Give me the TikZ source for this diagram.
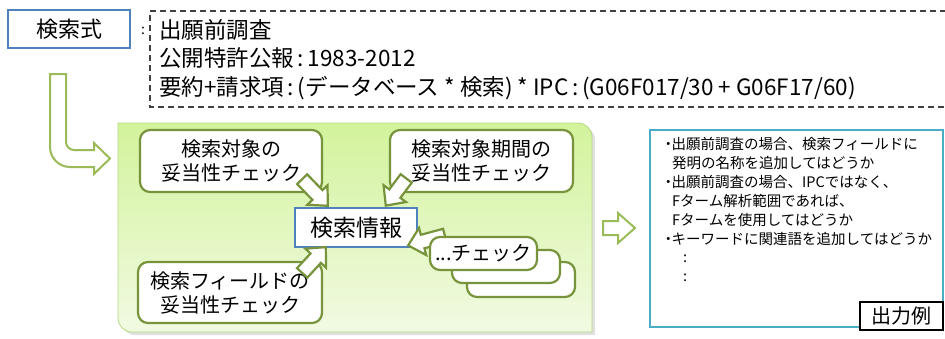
\documentclass[tikz,border=0pt]{standalone}
\usepackage{fontspec}
\setmainfont{Noto Sans CJK JP}
\usetikzlibrary{calc}
\definecolor{blueb}{HTML}{4F81BD}
\definecolor{greenb}{HTML}{77933C}
\definecolor{lgreen}{HTML}{9BBB59}
\definecolor{cyanb}{HTML}{4BACC6}
\definecolor{ptop}{HTML}{D3F39C}
\definecolor{pbot}{HTML}{F1FAE2}
\definecolor{pline}{HTML}{B5DA80}
\definecolor{dashc}{HTML}{404040}
\tikzset{
  chkbox/.style={draw=greenb, line width=2.2pt, rounded corners=10pt, fill=white, inner sep=0pt, align=center, font=\fontsize{20}{24}\selectfont},
  bluebox/.style={draw=blueb, line width=2.2pt, fill=white, inner sep=0pt},
  arrowstyle/.style={draw=greenb, line width=2.2pt, fill=white, line join=miter},
  hollowarrow/.style={draw=lgreen, line width=2pt, fill=white, line join=miter},
  toptext/.style={anchor=base west, inner sep=0pt, font=\fontsize{22.5}{26}\selectfont},
  outtext/.style={anchor=base west, inner sep=0pt, font=\fontsize{14.5}{19}\selectfont},
}
\newcommand{\blkarrow}[4]{%
  \begin{scope}[shift={(#1,#2)},rotate=#3]
    \draw[arrowstyle] (-#4/2,-7) -- (#4/2-15,-7) -- (#4/2-15,-14) -- (#4/2,0) -- (#4/2-15,14) -- (#4/2-15,7) -- (-#4/2,7) -- cycle;
  \end{scope}}
\begin{document}
\begin{tikzpicture}[x=1pt,y=-1pt]
\useasboundingbox (0,0) rectangle (945,338);
\fill[white] (0,0) rectangle (945,338);

% query box
\node[bluebox, minimum width=122pt, minimum height=38pt, font=\fontsize{22}{26}\selectfont] (query) at (69,29) {検索式};
\node[inner sep=0pt, font=\fontsize{14}{16}\selectfont] (colon) at (143,31) {:};

% dashed box
\draw[dashc, line width=1.1pt, dash pattern=on 6pt off 4pt] (946,11) -- (150,11) -- (150,107) -- (946,107);
\node[toptext] (l1) at (159,38.5) {出願前調査};
\node[toptext] (l2) at (159,66.5) {公開特許公報\,:\,1983-2012};
\node[toptext] (l3) at (159,95) {要約+請求項\,:\,(データベース * 検索) * IPC\,:\,(G06F017/30 + G06F17/60)};

% L arrow
\draw[hollowarrow] (50,74) -- (66,74) -- (66,142) .. controls (66,146.4) and (69.6,150) .. (74,150) -- (94,150) -- (94,143) -- (110,158.5) -- (94,174) -- (94,167) -- (70,167) .. controls (59,167) and (50,158) .. (50,147) -- cycle;

% panel shadow and panel
\fill[black, opacity=0.12] (121,126) -- (581,126) .. controls (588.7,126) and (595,132.3) .. (595,140) -- (595,335) -- (135,335) .. controls (127.3,335) and (121,328.7) .. (121,321) -- cycle;
\shade[top color=ptop, bottom color=pbot] (118,123) -- (578,123) .. controls (585.7,123) and (592,129.3) .. (592,137) -- (592,332) -- (132,332) .. controls (124.3,332) and (118,325.7) .. (118,318) -- cycle;
\draw[pline, line width=0.8pt] (118,123) -- (578,123) .. controls (585.7,123) and (592,129.3) .. (592,137) -- (592,332) -- (132,332) .. controls (124.3,332) and (118,325.7) .. (118,318) -- cycle;

% check boxes
\node[chkbox, minimum width=182pt, minimum height=62pt] (boxA) at (231,161) {検索対象の\\妥当性チェック};
\node[chkbox, minimum width=183pt, minimum height=62pt] (boxB) at (481.5,161) {検索対象期間の\\妥当性チェック};
\node[chkbox, minimum width=184pt, minimum height=61pt] (boxC) at (230,292.5) {検索フィールドの\\妥当性チェック};

% center box
\node[bluebox, minimum width=122pt, minimum height=39pt, font=\fontsize{23}{27}\selectfont] (info) at (356,227.5) {検索情報};

% arrow D (behind stack, over center box)
\blkarrow{426.5}{240.5}{-165}{38}

% stacked boxes
\node[chkbox, minimum width=108pt, minimum height=35pt] (stack3) at (521,279.5) {};
\node[chkbox, minimum width=108pt, minimum height=33pt] (stack2) at (506,266.5) {};
\node[chkbox, minimum width=107pt, minimum height=33pt] (stack1) at (483.5,253.5) {...チェック};

% arrows into center
\blkarrow{315}{192.5}{-46}{37}
\blkarrow{396}{192}{-127}{34}
\blkarrow{314}{260}{47.5}{35}

% right arrow
\draw[hollowarrow] (603,221) -- (618,221) -- (618,213) -- (635,228) -- (618,243) -- (618,235) -- (603,235) -- cycle;

% output box
\node[draw=cyanb, line width=2.5pt, fill=white, minimum width=293pt, minimum height=197pt, inner sep=0pt] (out) at (796.5,228.5) {};
\node[outtext] (o1) at (665,149.5) {\makebox[0.45em][c]{・}出願前調査の場合、検索フィールドに};
\node[outtext] (o2) at (672,168.5) {発明の名称を追加してはどうか};
\node[outtext] (o3) at (665,187.5) {\makebox[0.45em][c]{・}出願前調査の場合、IPCではなく、};
\node[outtext] (o4) at (672,206.5) {Fターム解析範囲であれば、};
\node[outtext] (o5) at (672,225.5) {Fタームを使用してはどうか};
\node[outtext] (o6) at (665,244.5) {\makebox[0.45em][c]{・}キーワードに関連語を追加してはどうか};
\node[outtext] (o7) at (683,262) {:};
\node[outtext] (o8) at (683,281) {:};
\node[draw=black, line width=2pt, fill=white, minimum width=83pt, minimum height=28pt, inner sep=0pt, font=\fontsize{20}{24}\selectfont] (ex) at (901.5,316) {出力例};
\end{tikzpicture}
\end{document}
